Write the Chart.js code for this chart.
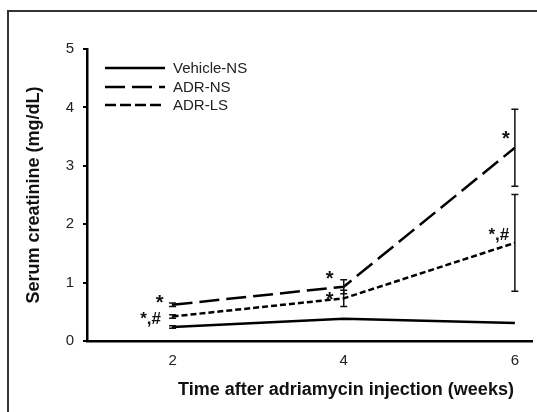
<!DOCTYPE html>
<html>
<head>
<meta charset="utf-8">
<script src="https://cdn.jsdelivr.net/npm/chart.js@4"></script>
<style>
  body { margin: 0; background: #fff; }
  #wrap { width: 537px; height: 412px; position: relative; }
</style>
</head>
<body>
<div id="wrap"><canvas id="chart"></canvas></div>
<script>
const weeks = [2, 4, 6];
const yTicks = [0, 1, 2, 3, 4, 5];
const seriesNames = ["Vehicle-NS", "ADR-NS", "ADR-LS"];

const vehicleNS = [0.24, 0.38, 0.31];
const adrNS = [0.62, 0.93, 3.31];
const adrLS = [0.42, 0.73, 1.68];

const vehicleErr = [0.02, 0, 0];
const adrNSErr = [0.03, 0.12, 0.66];
const adrLSErr = [0.03, 0.14, 0.83];

const adrNSMarks = ["*", "*", "*"];
const adrLSMarks = ["*,#", "*", "*,#"];

// label offsets from the point, in px
const markOffsets = [
  null,
  [[-13, -6], [-14, -12], [-9, -13]],
  [[-22, 0], [-14, -3], [-16, -11]],
];

const dashes = [[], [20, 7], [6, 3]];
const legendDashes = [[], [20, 7], [11, 4]];

const toPoints = (vals) => vals.map((v, i) => ({ x: weeks[i], y: v }));

const errors = [vehicleErr, adrNSErr, adrLSErr];
const marks = [null, adrNSMarks, adrLSMarks];

const extras = {
  id: "extras",
  beforeDraw(chart) {
    const { ctx } = chart;
    ctx.save();
    ctx.strokeStyle = "#333";
    ctx.lineWidth = 2;
    ctx.strokeRect(8, 11, 560, 440);
    ctx.restore();
  },
  afterDatasetsDraw(chart) {
    const { ctx } = chart;
    const y = chart.scales.y;
    ctx.save();
    ctx.strokeStyle = "#111";
    ctx.lineWidth = 1.5;
    chart.data.datasets.forEach((ds, di) => {
      const meta = chart.getDatasetMeta(di);
      meta.data.forEach((pt, i) => {
        const e = errors[di][i];
        if (!e) return;
        const v = ds.data[i].y;
        const top = y.getPixelForValue(v + e);
        const bot = y.getPixelForValue(v - e);
        ctx.beginPath();
        ctx.moveTo(pt.x, top); ctx.lineTo(pt.x, bot);
        ctx.moveTo(pt.x - 3.5, top); ctx.lineTo(pt.x + 3.5, top);
        ctx.moveTo(pt.x - 3.5, bot); ctx.lineTo(pt.x + 3.5, bot);
        ctx.stroke();
      });
    });

    ctx.fillStyle = "#111";
    ctx.textAlign = "center";
    ctx.textBaseline = "middle";
    chart.data.datasets.forEach((ds, di) => {
      if (!marks[di]) return;
      const meta = chart.getDatasetMeta(di);
      meta.data.forEach((pt, i) => {
        const off = markOffsets[di][i];
        const txt = marks[di][i];
        ctx.font = (txt === "*" ? "bold 20px" : "bold 17px") + " 'Liberation Sans', Arial, sans-serif";
        ctx.fillText(txt, pt.x + off[0], pt.y + off[1] + (txt === "*" ? 5 : 3));
      });
    });
    ctx.restore();
  },
  afterDraw(chart) {
    const { ctx } = chart;
    ctx.save();
    // legend
    ctx.strokeStyle = "#000";
    ctx.lineWidth = 2.5;
    ctx.font = "15px 'Liberation Sans', Arial, sans-serif";
    ctx.fillStyle = "#222";
    ctx.textBaseline = "middle";
    const rows = [68, 87, 105];
    seriesNames.forEach((name, i) => {
      ctx.setLineDash(legendDashes[i]);
      ctx.beginPath();
      ctx.moveTo(105, rows[i]);
      ctx.lineTo(165, rows[i]);
      ctx.stroke();
      ctx.fillText(name, 173, rows[i] + 1);
    });
    ctx.setLineDash([]);

    // axis titles
    ctx.fillStyle = "#111";
    ctx.font = "bold 18px 'Liberation Sans', Arial, sans-serif";
    ctx.textAlign = "center";
    ctx.fillText("Time after adriamycin injection (weeks)", 346, 390);
    ctx.translate(34, 195);
    ctx.rotate(-Math.PI / 2);
    ctx.fillText("Serum creatinine (mg/dL)", 0, 0);
    ctx.restore();
  }
};

new Chart(document.getElementById("chart"), {
  type: "line",
  data: {
    datasets: [vehicleNS, adrNS, adrLS].map((vals, i) => ({
      label: seriesNames[i],
      data: toPoints(vals),
      borderColor: "#000",
      borderWidth: 2.5,
      borderDash: dashes[i],
      pointRadius: 0,
      tension: 0,
      fill: false,
    })),
  },
  options: {
    responsive: true,
    maintainAspectRatio: false,
    animation: false,
    layout: { padding: { top: 49, right: 5, left: 0, bottom: 0 } },
    plugins: { legend: { display: false }, tooltip: { enabled: false } },
    scales: {
      x: {
        type: "linear",
        min: 1,
        max: 6.2,
        afterBuildTicks: (s) => { s.ticks = weeks.map(v => ({ value: v })); },
        afterFit: (s) => { s.height = 71; },
        grid: { display: false, drawTicks: false },
        border: { display: true, color: "#000", width: 2.5 },
        ticks: {
          padding: 11,
          color: "#222",
          font: { family: "'Liberation Sans', Arial, sans-serif", size: 15 },
        },
      },
      y: {
        min: 0,
        max: 5,
        afterBuildTicks: (s) => { s.ticks = yTicks.map(v => ({ value: v })); },
        afterFit: (s) => { s.width = 87; },
        grid: { display: true, drawOnChartArea: false, drawTicks: true, tickLength: 4, color: "#000", lineWidth: 2 },
        border: { display: true, color: "#000", width: 2.5 },
        ticks: {
          padding: 9,
          color: "#222",
          font: { family: "'Liberation Sans', Arial, sans-serif", size: 15 },
        },
      },
    },
  },
  plugins: [extras],
});
</script>
</body>
</html>
